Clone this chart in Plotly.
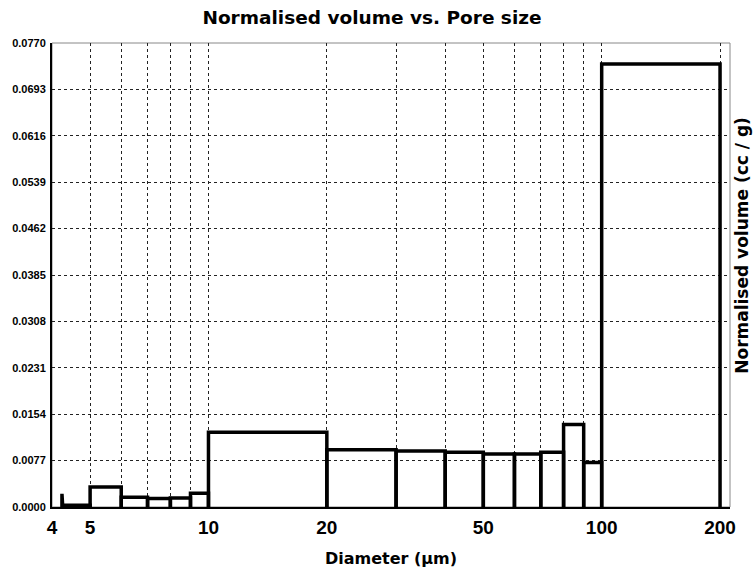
import plotly.graph_objects as go
import math

# Bin edges (diameter, µm) and normalised volume (cc/g)
bin_left = [4.24, 4.26, 5, 6, 7, 8, 9, 10, 20, 30, 40, 50, 60, 70, 80, 90, 100]
bin_right = [4.26, 5, 6, 7, 8, 9, 10, 20, 30, 40, 50, 60, 70, 80, 90, 100, 200]
volume = [0.0022, 0.0003, 0.0033, 0.0016, 0.0014, 0.0015, 0.0023, 0.0124,
          0.0095, 0.0093, 0.0091, 0.0088, 0.0088, 0.0091, 0.0137, 0.0074, 0.0735]

y_ticks = [0.0, 0.0077, 0.0154, 0.0231, 0.0308, 0.0385, 0.0462, 0.0539, 0.0616, 0.0693, 0.0770]
y_tick_text = ["0.0000", "0.0077", "0.0154", "0.0231", "0.0308", "0.0385",
               "0.0462", "0.0539", "0.0616", "0.0693", "0.0770"]
x_ticks = [4, 5, 6, 7, 8, 9, 10, 20, 30, 40, 50, 60, 70, 80, 90, 100, 200]
x_tick_text = ["4", "5", "", "", "", "", "10", "20", "", "", "50", "", "", "", "", "100", "200"]

xs, ys = [], []
for l, r, v in zip(bin_left, bin_right, volume):
    xs += [l, l, r, r, None]
    ys += [0, v, v, 0, None]

fig = go.Figure()
fig.add_trace(go.Scatter(x=xs, y=ys, mode="lines",
                         line=dict(color="black", width=3.5),
                         hoverinfo="skip", showlegend=False))

bold = dict(family="Liberation Sans, Arial, sans-serif", color="black", weight="bold")
wide = dict(family="DejaVu Sans, Verdana, sans-serif", color="black", weight="bold")

fig.update_layout(
    width=755, height=577,
    margin=dict(l=48, r=25, t=43, b=69),
    paper_bgcolor="white", plot_bgcolor="white",
    title=dict(text="Normalised volume vs. Pore size", x=0.4927, xanchor="center",
               y=1 - 18 / 577, yanchor="middle", font=dict(size=18.5, **wide)),
    xaxis=dict(type="log", range=[math.log10(4), math.log10(212)],
               tickvals=x_ticks, ticktext=x_tick_text, ticks="",
               tickfont=dict(size=19, **bold), ticklabelstandoff=2,
               showgrid=True, gridcolor="#222", griddash="dot", gridwidth=1,
               showline=True, linecolor="black", linewidth=1.5, zeroline=False,
               title=dict(text="Diameter (µm)", font=dict(size=16, **wide), standoff=16)),
    yaxis=dict(range=[0, 0.077], tickvals=y_ticks, ticktext=y_tick_text, ticks="",
               tickfont=dict(size=11, **bold), ticklabelstandoff=2,
               showgrid=True, gridcolor="#222", griddash="dot", gridwidth=1,
               showline=True, linecolor="black", linewidth=2, zeroline=False),
    shapes=[dict(type="rect", xref="paper", yref="paper", x0=0, x1=1, y0=0, y1=1,
                 line=dict(color="#888", width=1), layer="below")],
    annotations=[dict(text="Normalised volume (cc / g)", xref="paper", yref="paper",
                      x=(742 - 48) / 682, y=0.565, xanchor="center", yanchor="middle",
                      textangle=-90, showarrow=False, font=dict(size=17, **wide))],
)

fig.write_html("out.html")
